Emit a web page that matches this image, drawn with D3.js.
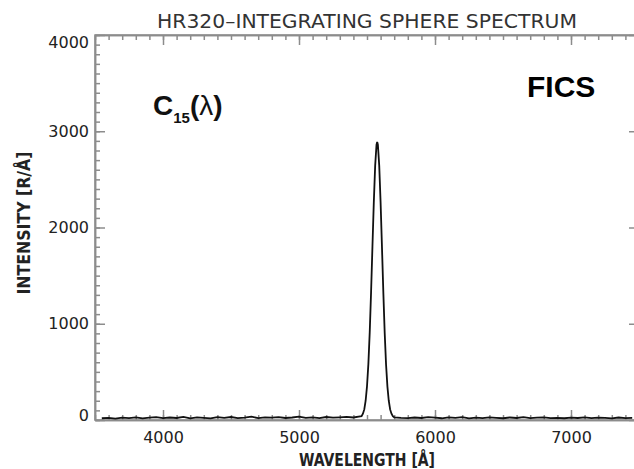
<html>
<head>
	<meta charset="utf-8">
	<title>HR320 integrating sphere spectrum</title>
	<script src="https://d3js.org/d3.v7.min.js"></script>
	<style>
	body { margin: 0; background: #fff; }
	.axis path, .axis line { stroke: #8c8c8c; stroke-width: 1.5; }
	.axis text { fill: #222; font-family: "DejaVu Sans", sans-serif; font-size: 16px; }
	.spec { fill: none; stroke: #111; stroke-width: 1.8; }
	</style>
</head>
<body>
	<div id="chart"></div>

	<script>
		// spectrum (wavelength in Å, intensity in R/Å)
		var wavelengths = [
		  3550,3600,3650,3700,3750,3800,3850,3900,3950,4000,4050,4100,4150,4200,4250,4300,4350,4400,4450,4500,
		  4550,4600,4650,4700,4750,4800,4850,4900,4950,5000,5050,5100,5150,5200,5250,5300,5350,5400,5450,
		  5460,5470,5480,5490,5500,5510,5520,5530,5540,5550,5560,5570,5575,5580,5590,5600,5610,5620,5630,5640,
		  5650,5660,5670,5680,5690,
		  5700,5750,5800,5850,5900,5950,6000,6050,6100,6150,6200,6250,6300,6350,6400,6450,6500,6550,6600,6650,
		  6700,6750,6800,6850,6900,6950,7000,7050,7100,7150,7200,7250,7300,7350,7400,7450
		];
		var intensity = [
		  18,22,15,25,20,28,17,24,30,19,26,21,33,18,27,22,16,29,23,31,
		  20,25,34,19,28,24,30,21,26,35,22,27,19,31,24,28,33,26,38,
		  40,65,110,200,350,580,910,1330,1800,2260,2640,2860,2890,2860,2640,2260,1800,1330,910,580,
		  350,200,110,65,40,
		  28,22,19,26,21,30,24,18,27,22,29,17,25,20,28,23,18,26,21,30,
		  19,24,27,20,23,18,25,21,28,19,24,22,17,26,20,23
		];

		var xMajor = [4000, 5000, 6000, 7000];
		var yMajor = [0, 1000, 2000, 3000, 4000];
		var xMinor = d3.range(3500, 7501, 100);
		var yMinor = d3.range(0, 4001, 100);

		var svg = d3.select("#chart").append("svg")
			.attr("width", 634)
			.attr("height", 469);

		var m = {left: 95, right: 639, top: 35, bottom: 420};

		var x = d3.scaleLinear().domain([3500, 7500]).range([m.left, m.right]),
		    y = d3.scaleLinear().domain([0, 4000]).range([m.bottom, m.top]);

		// minor ticks on all four sides
		svg.append("g").attr("class", "axis")
		    .attr("transform", "translate(0," + m.bottom + ")")
		    .call(d3.axisBottom(x).tickValues(xMinor).tickSizeInner(-5).tickSizeOuter(0).tickFormat(""));
		svg.append("g").attr("class", "axis")
		    .attr("transform", "translate(0," + m.top + ")")
		    .call(d3.axisTop(x).tickValues(xMinor).tickSizeInner(-5).tickSizeOuter(0).tickFormat(""));
		svg.append("g").attr("class", "axis")
		    .attr("transform", "translate(" + m.left + ",0)")
		    .call(d3.axisLeft(y).tickValues(yMinor).tickSizeInner(-5).tickSizeOuter(0).tickFormat(""));
		svg.append("g").attr("class", "axis")
		    .attr("transform", "translate(" + m.right + ",0)")
		    .call(d3.axisRight(y).tickValues(yMinor).tickSizeInner(-5).tickSizeOuter(0).tickFormat(""));

		// major ticks + labels
		svg.append("g").attr("class", "axis")
		    .attr("transform", "translate(0," + m.bottom + ")")
		    .call(d3.axisBottom(x).tickValues(xMajor).tickSizeInner(-10).tickSizeOuter(0)
		      .tickPadding(12).tickFormat(d3.format("d")));
		svg.append("g").attr("class", "axis")
		    .attr("transform", "translate(0," + m.top + ")")
		    .call(d3.axisTop(x).tickValues(xMajor).tickSizeInner(-10).tickSizeOuter(0).tickFormat(""));
		var yAx = svg.append("g").attr("class", "axis")
		    .attr("transform", "translate(" + m.left + ",0)")
		    .call(d3.axisLeft(y).tickValues(yMajor).tickSizeInner(-10).tickSizeOuter(0)
		      .tickPadding(6).tickFormat(d3.format("d")));
		svg.append("g").attr("class", "axis")
		    .attr("transform", "translate(" + m.right + ",0)")
		    .call(d3.axisRight(y).tickValues(yMajor).tickSizeInner(-10).tickSizeOuter(0).tickFormat(""));

		// end labels sit a little inside the frame
		yAx.selectAll(".tick text")
		    .attr("y", function(d) { return d === 4000 ? 7 : (d === 0 ? -5 : 0); });

		// frame
		svg.append("rect")
		    .attr("x", m.left).attr("y", m.top)
		    .attr("width", m.right - m.left).attr("height", m.bottom - m.top)
		    .attr("fill", "none").attr("stroke", "#8c8c8c").attr("stroke-width", 1.5);

		// spectrum
		var line = d3.line()
		    .x(function(d, i) { return x(wavelengths[i]); })
		    .y(function(d) { return y(d); });

		svg.append("path")
		    .datum(intensity)
		    .attr("class", "spec")
		    .attr("d", line);

		// titles
		svg.append("text")
		    .attr("x", 367).attr("y", 28)
		    .attr("text-anchor", "middle")
		    .attr("font-family", "DejaVu Sans, sans-serif").attr("font-size", 20)
		    .attr("textLength", 420).attr("lengthAdjust", "spacingAndGlyphs")
		    .attr("fill", "#333")
		    .text("HR320\u2013INTEGRATING SPHERE SPECTRUM");

		svg.append("text")
		    .attr("x", 367).attr("y", 466)
		    .attr("text-anchor", "middle")
		    .attr("font-family", "DejaVu Sans Condensed, DejaVu Sans, sans-serif")
		    .attr("font-weight", "bold").attr("font-size", 17)
		    .attr("textLength", 136).attr("lengthAdjust", "spacingAndGlyphs")
		    .attr("fill", "#222")
		    .text("WAVELENGTH [\u00c5]");

		svg.append("text")
		    .attr("transform", "translate(30,223) rotate(-90)")
		    .attr("text-anchor", "middle")
		    .attr("font-family", "DejaVu Sans Condensed, DejaVu Sans, sans-serif")
		    .attr("font-weight", "bold").attr("font-size", 17)
		    .attr("textLength", 143).attr("lengthAdjust", "spacingAndGlyphs")
		    .attr("fill", "#222")
		    .text("INTENSITY [R/\u00c5]");

		// annotations
		var c15 = svg.append("text")
		    .attr("x", 153).attr("y", 115)
		    .attr("font-family", "Liberation Sans, Arial, sans-serif")
		    .attr("font-weight", "bold").attr("font-size", 28)
		    .attr("fill", "#111");
		c15.append("tspan").text("C");
		c15.append("tspan").attr("font-size", 15).attr("dy", 8).text("15");
		c15.append("tspan").attr("dy", -8).text("(");
		c15.append("tspan").attr("font-weight", "normal").text("\u03bb");
		c15.append("tspan").text(")");

		svg.append("text")
		    .attr("x", 527).attr("y", 97)
		    .attr("font-family", "Liberation Sans, Arial, sans-serif")
		    .attr("font-weight", "bold").attr("font-size", 30)
		    .attr("fill", "#000")
		    .text("FICS");
	</script>
</body>
</html>
